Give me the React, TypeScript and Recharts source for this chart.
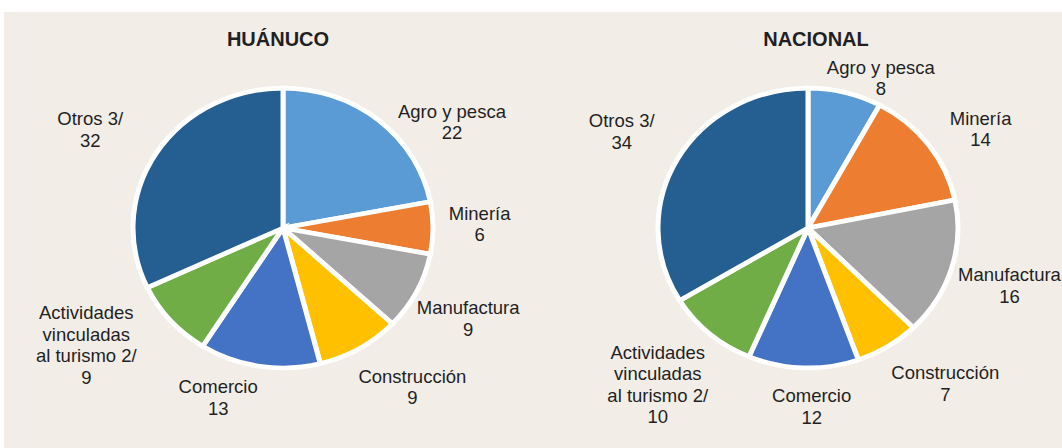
import React from 'react';
import { PieChart, Pie, Cell } from 'recharts';

const CATEGORIES = [
  'Agro y pesca',
  'Minería',
  'Manufactura',
  'Construcción',
  'Comercio',
  'Actividades\nvinculadas\nal turismo 2/',
  'Otros 3/',
];
const HUANUCO_VALUES = [22, 6, 9, 9, 13, 9, 32];
const NACIONAL_VALUES = [8, 14, 16, 7, 12, 10, 34];
const TITLES = ['HUÁNUCO', 'NACIONAL'];

const COLORS = ['#5b9bd5', '#ed7d31', '#a5a5a5', '#ffc000', '#4472c4', '#70ad47', '#255e91'];

// the source image is a bit stretched sideways, so the pies are ellipses
const SQUASH = 0.933;
const CY = 228;
const RADIUS = 150;
const FONT = 18.5;
const LINE_H = 21.5;
const BG = '#f2eee7';

// hand tweaks on top of the outside-end placement (screen px)
const HUANUCO_LABEL_NUDGE = [[27, 30], [-2, -4], [-9, 10], [16, 7], [-33, -5], [-26, -14], [-21, -4]];
const NACIONAL_LABEL_NUDGE = [[18, 21], [13, 6], [-7, 6], [19, 6], [10, 2], [-1, 7], [-9, -10]];

const RAD = Math.PI / 180;

const makeLabel = (nudge: number[][]) => (props: any) => {
  const { cx, cy, midAngle, outerRadius, index, value } = props;
  const lines = [...CATEGORIES[index].split('\n'), String(value)];
  const longest = Math.max(...lines.map((l) => l.length));
  const w = longest * FONT * 0.52;
  const h = lines.length * LINE_H;
  const cos = Math.cos(-midAngle * RAD);
  const sin = Math.sin(-midAngle * RAD);
  const rx = outerRadius + 15;
  const ry = outerRadius * SQUASH + 15;
  const x = cx + rx * cos + (w / 2) * cos + nudge[index][0];
  const y = cy + ry * sin + (h / 2) * sin + nudge[index][1];
  const firstY = y - ((lines.length - 1) / 2) * LINE_H + FONT * 0.36;
  return (
    <text
      x={x}
      y={firstY}
      textAnchor="middle"
      fontFamily="'Liberation Sans', Arial, sans-serif"
      fontSize={FONT}
      fill="#1f1f24"
    >
      {lines.map((l, i) => (
        <tspan key={i} x={x} dy={i === 0 ? 0 : LINE_H}>
          {l}
        </tspan>
      ))}
    </text>
  );
};

export default function App() {
  const huanuco = CATEGORIES.map((name, i) => ({ name, value: HUANUCO_VALUES[i] }));
  const nacional = CATEGORIES.map((name, i) => ({ name, value: NACIONAL_VALUES[i] }));

  return (
    <div style={{ position: 'fixed', left: 0, top: 0, width: 1062, height: 448, background: '#fff', overflow: 'hidden' }}>
      <div style={{ position: 'absolute', left: 4, top: 12, right: 0, bottom: 0, background: BG }} />
      <style>{`.squash .recharts-sector{transform:scaleY(${SQUASH});transform-origin:0px ${CY}px;}`}</style>
      <div className="squash" style={{ position: 'absolute', left: 0, top: 0 }}>
        <PieChart width={1062} height={448} margin={{ top: 0, right: 0, bottom: 0, left: 0 }}>
          <Pie
            data={huanuco}
            dataKey="value"
            cx={283}
            cy={CY}
            outerRadius={RADIUS}
            startAngle={90}
            endAngle={-270}
            stroke="#ffffff"
            strokeWidth={5}
            labelLine={false}
            label={makeLabel(HUANUCO_LABEL_NUDGE)}
            isAnimationActive={false}
          >
            {huanuco.map((d, i) => (
              <Cell key={`h-${i}`} fill={COLORS[i]} />
            ))}
          </Pie>
          <Pie
            data={nacional}
            dataKey="value"
            cx={808}
            cy={CY}
            outerRadius={RADIUS}
            startAngle={90}
            endAngle={-270}
            stroke="#ffffff"
            strokeWidth={5}
            labelLine={false}
            label={makeLabel(NACIONAL_LABEL_NUDGE)}
            isAnimationActive={false}
          >
            {nacional.map((d, i) => (
              <Cell key={`n-${i}`} fill={COLORS[i]} />
            ))}
          </Pie>
        </PieChart>
      </div>
      {TITLES.map((t, i) => (
        <div
          key={t}
          style={{
            position: 'absolute',
            left: i === 0 ? 178 : 716,
            width: 200,
            top: 27,
            textAlign: 'center',
            fontFamily: "'Liberation Sans', Arial, sans-serif",
            fontWeight: 'bold',
            fontSize: 20,
            lineHeight: '24px',
            color: '#1f1f24',
          }}
        >
          {t}
        </div>
      ))}
    </div>
  );
}
